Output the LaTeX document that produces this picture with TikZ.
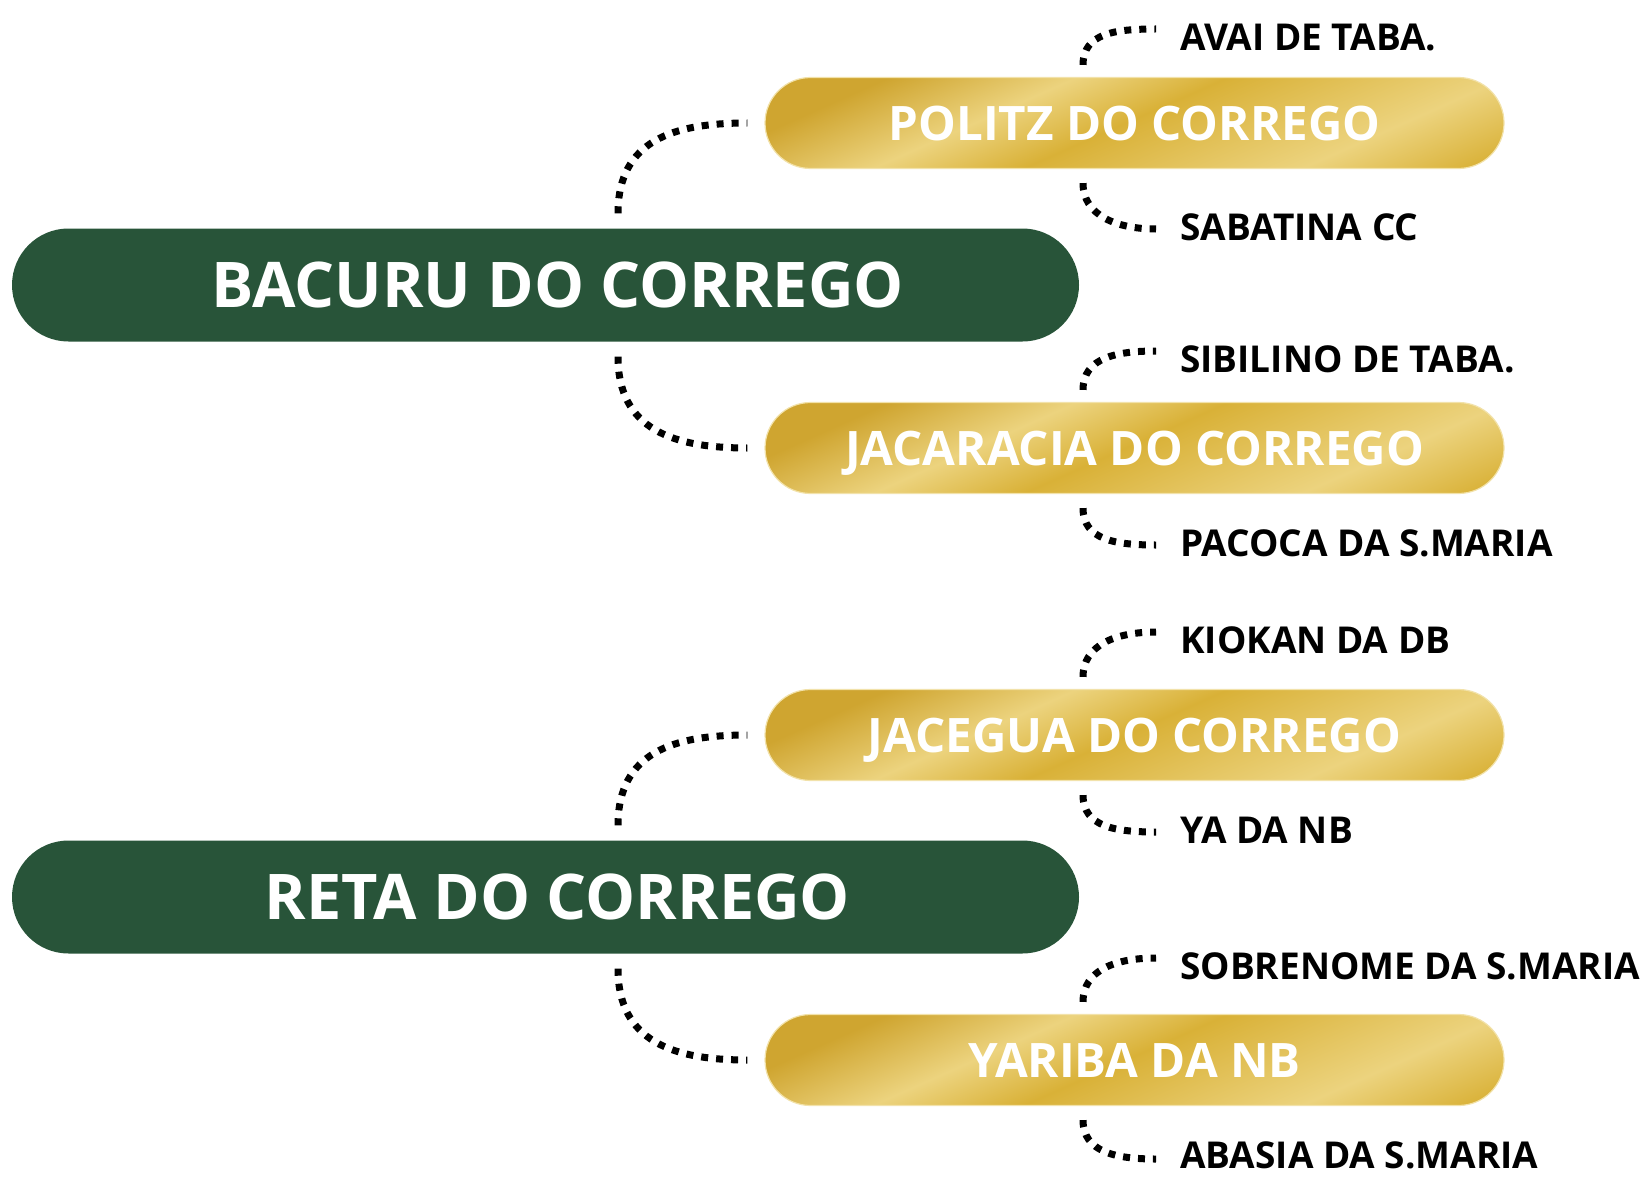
\documentclass[tikz,border=0pt]{standalone}
\usepackage{fontspec}
\setmainfont{Open Sans}
\usetikzlibrary{positioning}
\definecolor{forestgreen}{RGB}{40,84,57}
\definecolor{golddark}{RGB}{207,165,48}
\definecolor{goldmid}{RGB}{217,177,55}
\definecolor{goldlight}{RGB}{236,211,126}
\definecolor{goldedge}{RGB}{242,226,170}
\pgfdeclarehorizontalshading{goldband}{900bp}{color(0bp)=(golddark); color(109bp)=(golddark);
  color(185bp)=(goldlight); color(246bp)=(goldmid); color(359bp)=(goldlight);
  color(430bp)=(goldmid); color(500bp)=(golddark)}
\tikzset{
  rootbox/.style={
    rectangle, rounded corners=56.5pt,
    minimum width=1067pt, minimum height=113pt, inner sep=0pt,
    fill=forestgreen, text=white, text depth=0pt,
    font=\fontsize{63}{63}\selectfont\bfseries
  },
  branchbox/.style={
    rectangle, rounded corners=45.5pt,
    minimum width=739pt, minimum height=91pt, inner sep=0pt,
    draw=goldedge, line width=1.2pt, text=white, text depth=0pt,
    font=\fontsize{47.5}{47.5}\selectfont\bfseries,
    path picture={\node[rotate=-66, inner sep=0pt]
      at (path picture bounding box.center) {\pgfuseshading{goldband}};}
  },
  leaflabel/.style={
    anchor=west, inner sep=0pt, text depth=0pt,
    font=\fontsize{37}{37}\selectfont\bfseries
  },
  dotline/.style={line width=7pt, dash pattern=on 7pt off 8pt, black},
}
\begin{document}
\begin{tikzpicture}[x=1pt, y=-1pt]
  \useasboundingbox (0,0) rectangle (1643,1177);

  % Root nodes
  \node[rootbox] (bacuru) at (545.5,285) {\hspace*{24pt}BACURU DO CORREGO};
  \node[rootbox] (reta)   at (545.5,897) {\hspace*{24pt}RETA DO CORREGO};

  % Branch nodes
  \node[branchbox] (politz)    at (1134.5,123)  {POLITZ DO CORREGO};
  \node[branchbox] (jacaracia) at (1134.5,448)  {JACARACIA DO CORREGO};
  \node[branchbox] (jacegua)   at (1134.5,735)  {JACEGUA DO CORREGO};
  \node[branchbox] (yariba)    at (1134.5,1060) {YARIBA DA NB};

  % Leaf labels
  \node[leaflabel] (avai)      at (1180,37)   {AVAI DE TABA.};
  \node[leaflabel] (sabatina)  at (1180,227)  {SABATINA CC};
  \node[leaflabel] (sibilino)  at (1180,359)  {SIBILINO DE TABA.};
  \node[leaflabel] (pacoca)    at (1180,543)  {PACOCA DA S.MARIA};
  \node[leaflabel] (kiokan)    at (1180,640)  {KIOKAN DA DB};
  \node[leaflabel] (ya)        at (1180,830)  {YA DA NB};
  \node[leaflabel] (sobrenome) at (1180,966)  {SOBRENOME DA S.MARIA};
  \node[leaflabel] (abasia)    at (1180,1155) {ABASIA DA S.MARIA};

  % Root to branch
  \draw[dotline] ([shift={(72.5,-15)}]bacuru.north) .. controls +(0,-73) and +(-74,0) .. ([xshift=-17]politz.west);
  \draw[dotline] ([shift={(72.5,15)}]bacuru.south) .. controls +(0,73) and +(-74,0) .. ([xshift=-17]jacaracia.west);
  \draw[dotline] ([shift={(72.5,-15)}]reta.north) .. controls +(0,-73) and +(-74,0) .. ([xshift=-17]jacegua.west);
  \draw[dotline] ([shift={(72.5,15)}]reta.south) .. controls +(0,73) and +(-74,0) .. ([xshift=-17]yariba.west);

  % Branch to leaf
  \draw[dotline] ([shift={(-51.5,-12)}]politz.north) .. controls +(0,-32) and +(-40,0) .. ([shift={(-24,-8)}]avai.west);
  \draw[dotline] ([shift={(-51.5,14)}]politz.south) .. controls +(0,32) and +(-40,0) .. ([shift={(-24,2)}]sabatina.west);
  \draw[dotline] ([shift={(-51.5,-12)}]jacaracia.north) .. controls +(0,-32) and +(-40,0) .. ([shift={(-24,-8)}]sibilino.west);
  \draw[dotline] ([shift={(-51.5,14)}]jacaracia.south) .. controls +(0,32) and +(-40,0) .. ([shift={(-24,2)}]pacoca.west);
  \draw[dotline] ([shift={(-51.5,-12)}]jacegua.north) .. controls +(0,-32) and +(-40,0) .. ([shift={(-24,-8)}]kiokan.west);
  \draw[dotline] ([shift={(-51.5,14)}]jacegua.south) .. controls +(0,32) and +(-40,0) .. ([shift={(-24,2)}]ya.west);
  \draw[dotline] ([shift={(-51.5,-12)}]yariba.north) .. controls +(0,-32) and +(-40,0) .. ([shift={(-24,-8)}]sobrenome.west);
  \draw[dotline] ([shift={(-51.5,14)}]yariba.south) .. controls +(0,32) and +(-40,0) .. ([shift={(-24,4)}]abasia.west);

\end{tikzpicture}
\end{document}
